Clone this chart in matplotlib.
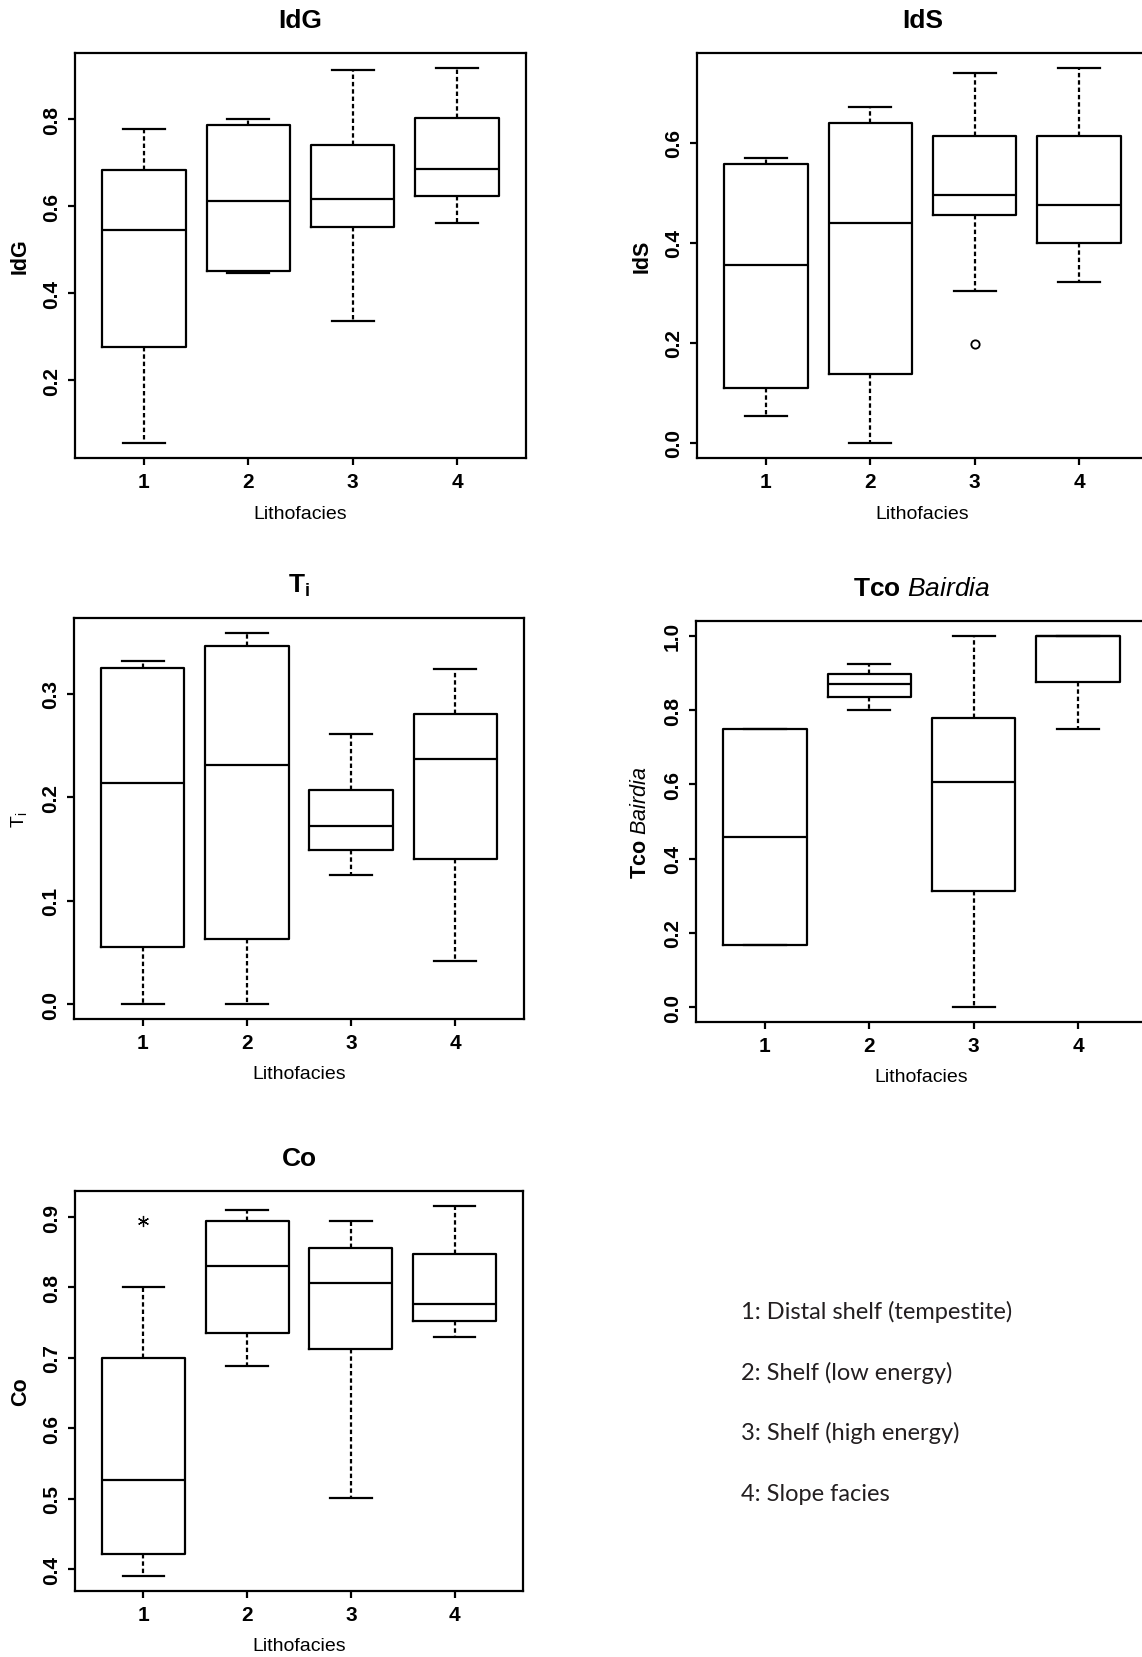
import matplotlib
matplotlib.use("Agg")
import matplotlib.pyplot as plt

plt.rcParams["font.family"] = "Liberation Sans"
plt.rcParams["mathtext.fontset"] = "custom"
plt.rcParams["mathtext.rm"] = "Liberation Sans"
plt.rcParams["mathtext.it"] = "Liberation Sans:italic"
plt.rcParams["mathtext.bf"] = "Liberation Sans:bold"

LITHOFACIES = [1, 2, 3, 4]
FACIES_NAMES = [
    "1: Distal shelf (tempestite)",
    "2: Shelf (low energy)",
    "3: Shelf (high energy)",
    "4: Slope facies",
]

# per lithofacies: lower whisker, Q1, median, Q3, upper whisker
idg_stats = [
    [0.056, 0.276, 0.545, 0.684, 0.778],
    [0.447, 0.452, 0.613, 0.786, 0.800],
    [0.337, 0.552, 0.618, 0.740, 0.913],
    [0.561, 0.624, 0.686, 0.802, 0.918],
]
idg_outliers = [[], [], [], []]

ids_stats = [
    [0.055, 0.110, 0.356, 0.558, 0.571],
    [0.000, 0.139, 0.441, 0.640, 0.673],
    [0.305, 0.456, 0.497, 0.615, 0.741],
    [0.323, 0.400, 0.477, 0.614, 0.750],
]
ids_outliers = [[], [], [0.199], []]

ti_stats = [
    [0.000, 0.055, 0.214, 0.325, 0.332],
    [0.000, 0.063, 0.231, 0.346, 0.359],
    [0.125, 0.149, 0.172, 0.207, 0.261],
    [0.042, 0.140, 0.237, 0.281, 0.324],
]
ti_outliers = [[], [], [], []]

tco_stats = [
    [0.167, 0.167, 0.458, 0.750, 0.750],
    [0.801, 0.834, 0.870, 0.898, 0.925],
    [0.000, 0.312, 0.606, 0.780, 1.000],
    [0.750, 0.876, 1.000, 1.000, 1.000],
]
tco_outliers = [[], [], [], []]

co_stats = [
    [0.390, 0.421, 0.527, 0.700, 0.800],
    [0.688, 0.736, 0.830, 0.894, 0.910],
    [0.501, 0.712, 0.807, 0.856, 0.895],
    [0.730, 0.753, 0.777, 0.847, 0.916],
]
co_outliers = [[0.895], [], [], []]

idg_yticks = [0.2, 0.4, 0.6, 0.8]
ids_yticks = [0.0, 0.2, 0.4, 0.6]
ti_yticks = [0.0, 0.1, 0.2, 0.3]
tco_yticks = [0.0, 0.2, 0.4, 0.6, 0.8, 1.0]
co_yticks = [0.4, 0.5, 0.6, 0.7, 0.8, 0.9]

W, H = 1142, 1658
LW = 1.6


def rect(x0, y0, x1, y1):
    # pixel box -> figure fraction
    return [x0 / W, 1 - y1 / H, (x1 - x0) / W, (y1 - y0) / H]


def draw_panel(ax, stats, outliers, yticks, title, ylabel, marker):
    bstats = [
        dict(whislo=s[0], q1=s[1], med=s[2], q3=s[3], whishi=s[4], fliers=f)
        for s, f in zip(stats, outliers)
    ]
    line = dict(color="black", linewidth=LW)
    ax.bxp(
        bstats, positions=LITHOFACIES, widths=0.8, capwidths=0.4,
        boxprops=line, medianprops=line, capprops=line,
        whiskerprops=dict(color="black", linewidth=LW, linestyle=(0, (2.0, 1.3))),
        flierprops=dict(marker=marker, markersize=6 if marker == "o" else 8,
                        markerfacecolor="none", markeredgecolor="black",
                        markeredgewidth=1.3 if marker == "o" else 0.9),
    )
    vals = [v for s in stats for v in s] + [v for f in outliers for v in f]
    lo, hi = min(vals), max(vals)
    pad = 0.04 * (hi - lo)
    ax.set_ylim(lo - pad, hi + pad)
    ax.set_xlim(0.34, 4.66)
    ax.set_xticks(LITHOFACIES)
    ax.set_xticklabels([str(v) for v in LITHOFACIES], fontweight="bold")
    ax.set_yticks(yticks)
    ax.set_yticklabels([f"{v:.1f}" for v in yticks], fontweight="bold",
                       rotation=90, va="center")
    ax.tick_params(length=5, width=LW, labelsize=15, pad=5)
    for sp in ax.spines.values():
        sp.set_linewidth(LW)
    ax.text(0.5, 1.082, title, transform=ax.transAxes, ha="center",
            va="center", fontsize=19, fontweight="bold")
    ax.set_ylabel(ylabel, fontsize=15.5, fontweight="bold", va="center")
    ax.yaxis.set_label_coords(-0.122, 0.5)
    ax.set_xlabel("Lithofacies", fontsize=14, va="center")
    ax.xaxis.set_label_coords(0.5, -0.137)


fig = plt.figure(figsize=(W / 100, H / 100), dpi=100)

ax1 = fig.add_axes(rect(75, 54, 526, 459))
draw_panel(ax1, idg_stats, idg_outliers, idg_yticks, "IdG", "IdG", "o")

ax2 = fig.add_axes(rect(697, 54, 1148, 459))
draw_panel(ax2, ids_stats, ids_outliers, ids_yticks, "IdS", "IdS", "o")

ax3 = fig.add_axes(rect(74, 619, 524, 1020))
draw_panel(ax3, ti_stats, ti_outliers, ti_yticks,
           r"$\mathbf{T}_{\mathbf{i}}$", "", "o")
ax3.set_ylabel(r"$\mathrm{T}_{\mathrm{i}}$", fontsize=14, va="center")
ax3.yaxis.set_label_coords(-0.122, 0.5)

ax4 = fig.add_axes(rect(696, 622, 1147, 1023))
draw_panel(ax4, tco_stats, tco_outliers, tco_yticks,
           r"$\mathbf{Tco}$ $\mathit{Bairdia}$",
           r"$\mathbf{Tco}$ $\mathit{Bairdia}$", "o")

ax5 = fig.add_axes(rect(75, 1192, 523, 1592))
draw_panel(ax5, co_stats, co_outliers, co_yticks, "Co", "Co", (6, 2, 0))

legend_y = [1312, 1373, 1433, 1495]
for name, y in zip(FACIES_NAMES, legend_y):
    fig.text(741 / W, 1 - y / H, name, family="Lato", fontsize=17,
             va="center", ha="left", color="#231f20")

fig.savefig("out.png", dpi=100)
